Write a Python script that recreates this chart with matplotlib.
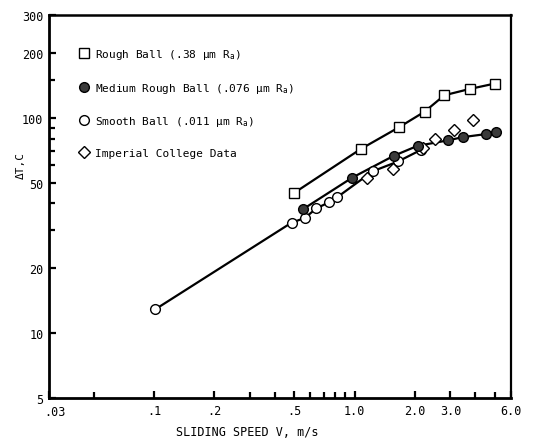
import matplotlib
matplotlib.use("Agg")

import matplotlib.pyplot as plt
from matplotlib.lines import Line2D
from matplotlib.ticker import FixedLocator, NullFormatter
from matplotlib.transforms import ScaledTranslation

# ======================
# Data
# ======================
rough_v = [0.497, 1.07, 1.67, 2.23, 2.80, 3.74, 5.01]
rough_t = [44.6, 71.4, 90.4, 106.5, 127.0, 135.8, 144.0]

medium_v = [0.553, 0.974, 1.566, 2.06, 2.91, 3.46, 4.52, 5.09]
medium_t = [37.6, 52.7, 66.5, 74.0, 78.4, 81.2, 83.9, 85.4]

smooth_v = [0.1015, 0.486, 0.564, 0.644, 0.746, 0.818, 1.232, 1.646, 2.15]
smooth_t = [12.9, 32.6, 34.2, 37.9, 40.5, 42.7, 56.4, 62.6, 71.0]

imperial_v = [1.156, 1.554, 2.19, 2.52, 3.13, 3.91]
imperial_t = [52.7, 57.7, 72.0, 79.3, 87.6, 97.2]

x_major = [0.03, 0.1, 0.2, 0.5, 1.0, 2.0, 3.0, 6.0]
x_labels = [".03", ".1", ".2", ".5", "1.0", "2.0", "3.0", "6.0"]
x_minor = [0.05, 0.3, 0.4, 0.6, 0.7, 0.8, 0.9, 4.0, 5.0]

y_major = [5, 10, 20, 50, 100, 200, 300]
y_labels = ["5", "10", "20", "50", "100", "200", "300"]
y_minor = [30, 40, 60, 70, 80, 90, 150]

legend_labels = [
    r"Rough Ball (.38 μm R$_a$)",
    r"Medium Rough Ball (.076 μm R$_a$)",
    r"Smooth Ball (.011 μm R$_a$)",
    "Imperial College Data",
]

plt.rcParams["font.family"] = ["DejaVu Sans Mono", "DejaVu Sans"]
plt.rcParams["mathtext.default"] = "regular"

fig = plt.figure(figsize=(5.57, 4.39), dpi=100)
ax = fig.add_axes([0.088, 0.091, 0.829, 0.873])

ax.set_xscale("log")
ax.set_yscale("log")

# lines
ax.plot(rough_v, rough_t, color="black", lw=1.6, zorder=2)
ax.plot(medium_v, medium_t, color="black", lw=1.6, zorder=2)
ax.plot(smooth_v, smooth_t, color="black", lw=1.6, zorder=2)

# markers
ax.plot(rough_v, rough_t, ls="none", marker="s", ms=7, mfc="white", mec="black", mew=1.0, zorder=4)
ax.plot(smooth_v, smooth_t, ls="none", marker="o", ms=7, mfc="white", mec="black", mew=1.0, zorder=3)
ax.plot(imperial_v, imperial_t, ls="none", marker="D", ms=6.5, mfc="white", mec="black", mew=1.0, zorder=3)
ax.plot(medium_v, medium_t, ls="none", marker="o", ms=7, mfc="#3a3a3a", mec="black", mew=1.0, zorder=5)

ax.set_xlim(0.03, 6.0)
ax.set_ylim(5, 300)

# ticks
ax.xaxis.set_major_locator(FixedLocator(x_major))
ax.set_xticklabels(x_labels)
ax.xaxis.set_minor_locator(FixedLocator(x_minor))
ax.xaxis.set_minor_formatter(NullFormatter())
ax.yaxis.set_major_locator(FixedLocator(y_major))
ax.set_yticklabels(y_labels)
ax.yaxis.set_minor_locator(FixedLocator(y_minor))
ax.yaxis.set_minor_formatter(NullFormatter())

ax.tick_params(which="both", direction="in", width=1.6, labelsize=8.5)
ax.tick_params(which="major", length=5, pad=4)
ax.tick_params(which="minor", length=4)
ax.tick_params(axis="y", pad=4)

# nudge the ".03" label right so it clears the "5"
first = ax.get_xticklabels()[0]
first.set_transform(first.get_transform() + ScaledTranslation(4 / 72, -1 / 72, fig.dpi_scale_trans))

for side, lw in [("left", 2.0), ("bottom", 2.0), ("top", 1.8), ("right", 1.6)]:
    ax.spines[side].set_linewidth(lw)

ax.set_xlabel("SLIDING SPEED V, m/s", fontsize=8.5)
ax.xaxis.set_label_coords(0.43, -0.07)
ax.set_ylabel("ΔT,C", fontsize=8)
ax.yaxis.set_label_coords(-0.05, 0.61)

# legend
handles = [
    Line2D([], [], ls="none", marker="s", ms=7, mfc="white", mec="black"),
    Line2D([], [], ls="none", marker="o", ms=7, mfc="#3a3a3a", mec="black"),
    Line2D([], [], ls="none", marker="o", ms=7, mfc="white", mec="black"),
    Line2D([], [], ls="none", marker="D", ms=6.5, mfc="white", mec="black"),
]
ax.legend(handles, legend_labels, loc="upper left", bbox_to_anchor=(0.057, 0.927),
          frameon=False, fontsize=8, handlelength=0.8, handletextpad=0.6,
          labelspacing=1.75, borderaxespad=0)

fig.savefig("out.png", dpi=100)
